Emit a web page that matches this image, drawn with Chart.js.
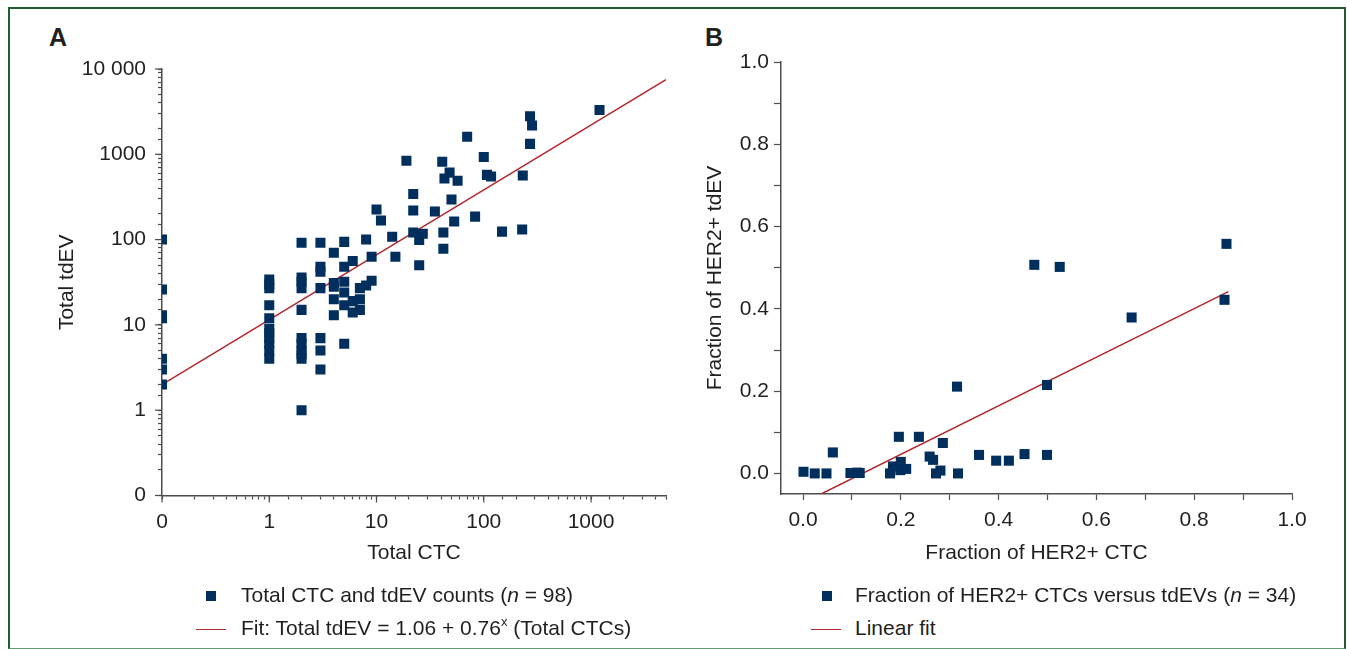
<!DOCTYPE html>
<html>
<head>
<meta charset="utf-8">
<script src="https://cdn.jsdelivr.net/npm/chart.js@4.4.0/dist/chart.umd.min.js"></script>
<style>
  body { margin: 0; width: 1347px; height: 649px; background: #fff; overflow: hidden;
         font-family: "Liberation Sans", Arial, sans-serif; color: #231f20; }
  .frame { position: absolute; left: 7.5px; top: 7px; width: 1338px; height: 642px; box-sizing: border-box;
           border: 2.5px solid #1d5f2f; border-bottom: 1px solid #5f9a70; }
  .panel { position: absolute; top: 25px; font-weight: bold; font-size: 25px; line-height: 1; }
  canvas { position: absolute; top: 0; }
  .leg { position: absolute; font-size: 21px; line-height: 33px; white-space: nowrap; }
  .sq { position: absolute; width: 9.5px; height: 9.5px; background: #002e5d; }
  .ln { position: absolute; height: 1.5px; background: #b3282d; }
  sup { font-size: 13px; line-height: 0; vertical-align: 9px; }
</style>
</head>
<body>
<div class="frame"></div>
<div class="panel" style="left:49px">A</div>
<div class="panel" style="left:705px">B</div>
<canvas id="chartA" width="680" height="580" style="left:0"></canvas>
<canvas id="chartB" width="667" height="580" style="left:680px"></canvas>

<div class="sq" style="left:206px; top:591px"></div>
<div class="leg" style="left:241px; top:578px">Total CTC and tdEV counts (<i>n</i> = 98)</div>
<div class="ln" style="left:196px; top:628.5px; width:30px"></div>
<div class="leg" style="left:241px; top:611px">Fit: Total tdEV = 1.06 + 0.76<sup>x</sup> (Total CTCs)</div>

<div class="sq" style="left:822px; top:591px"></div>
<div class="leg" style="left:855px; top:578px">Fraction of HER2+ CTCs versus tdEVs (<i>n</i> = 34)</div>
<div class="ln" style="left:811px; top:628.5px; width:30px"></div>
<div class="leg" style="left:855px; top:611px">Linear fit</div>

<script>
// panel A: total CTC vs total tdEV (0 drawn one decade below 1)
const ctcA = [
  0, 0, 0, 0, 0, 0, 0,
  1, 1, 1, 1, 1, 1, 1, 1, 1, 1, 1,
  2, 2, 2, 2, 2, 2, 2, 2, 2, 2, 2,
  3, 3, 3, 3, 3, 3, 3,
  4, 4, 4, 4, 4,
  5, 5, 5, 5, 5, 5,
  6, 6, 6,
  7, 7, 7,
  8, 8,
  9, 9,
  10, 11, 14, 15, 19, 22, 22, 22, 25, 25, 27, 35, 41, 42, 42, 43,
  48, 50, 53, 57, 70, 83, 100, 107, 117, 148, 228, 231, 270, 270, 282, 1200
];
const tdevA = [
  100, 26, 13, 12, 4, 3, 2,
  34, 30, 27, 17, 12, 9, 8, 7, 6, 5, 4,
  92, 36, 32, 27, 15, 7, 6, 5, 4.5, 4, 1,
  92, 48, 42, 27, 7, 5, 3,
  70, 31, 28, 20, 13,
  94, 48, 32, 24, 17, 6,
  56, 19, 14,
  27, 20, 15,
  100, 29,
  63, 33,
  225, 167, 108, 63, 840, 343, 219, 121, 99, 50, 117, 213, 820, 121, 78, 519,
  610, 295, 163, 490, 1610, 186, 930, 574, 548, 124, 131, 563, 2800, 1325, 2170, 3300
];
const fitAX = [0, 5000];
const fitAY = [2.0, 7500];

// panel B: fraction of HER2+ CTC vs fraction of HER2+ tdEV
const fracCTC = [
  0.001, 0.024, 0.048, 0.061, 0.097, 0.111, 0.116, 0.178, 0.184, 0.196, 0.2,
  0.199, 0.211, 0.237, 0.259, 0.266, 0.272, 0.281, 0.286, 0.315, 0.317, 0.36,
  0.395, 0.421, 0.453, 0.499, 0.499, 0.473, 0.525, 0.672, 0.862, 0.866
];
const fracEV = [
  0.004, 0, 0, 0.051, 0.001, 0.002, 0.001, 0, 0.017, 0.089, 0.028,
  0.008, 0.011, 0.089, 0.041, 0.033, 0, 0.007, 0.074, 0.211, 0, 0.045,
  0.031, 0.031, 0.047, 0.215, 0.045, 0.507, 0.502, 0.379, 0.422, 0.558
];
const fitBX = [0.037, 0.87];
const fitBY = [-0.05, 0.442];

const navy = '#002e5d';
const red = '#b3282d';
const axisColor = '#4d4d4d';
const textColor = '#231f20';
const fontFamily = '"Liberation Sans", Arial, sans-serif';
const ZERO_AT = 0.1; // where "0" sits on the log axes

const toLog = v => (v === 0 ? ZERO_AT : v);
const isDecade = v => {
  const l = Math.log10(v);
  return Math.abs(l - Math.round(l)) < 1e-9;
};
const logLabel = v => {
  if (!isDecade(v)) return '';
  if (Math.abs(v - ZERO_AT) < 1e-12) return '0';
  return v >= 10000 ? '10 000' : String(Math.round(v));
};

// longer tick marks on the decades of the log axes
const majorTicks = {
  id: 'majorTicks',
  afterDraw(chart, args, opts) {
    if (!opts.len) return;
    const ctx = chart.ctx;
    ctx.save();
    ctx.strokeStyle = axisColor;
    ctx.lineWidth = 1.2;
    Object.values(chart.scales).forEach(s => {
      s.ticks.forEach(t => {
        if (!isDecade(t.value)) return;
        const p = s.getPixelForValue(t.value);
        ctx.beginPath();
        if (s.isHorizontal()) {
          ctx.moveTo(p, s.top);
          ctx.lineTo(p, s.top + opts.len);
        } else {
          ctx.moveTo(s.right, p);
          ctx.lineTo(s.right - opts.len, p);
        }
        ctx.stroke();
      });
    });
    ctx.restore();
  }
};

const font = { family: fontFamily, size: 21 };

function axis(extra) {
  return Object.assign({
    border: { color: axisColor, width: 1.5 },
    grid: { drawOnChartArea: false, drawTicks: true, tickLength: 4, tickColor: axisColor, tickWidth: 1.2 },
    ticks: { autoSkip: false, maxRotation: 0, color: textColor, font: font, padding: 10 },
  }, extra);
}

new Chart(document.getElementById('chartA'), {
  type: 'scatter',
  data: {
    datasets: [
      {
        data: ctcA.map((x, i) => ({ x: toLog(x), y: toLog(tdevA[i]) })),
        backgroundColor: navy, borderWidth: 0, pointStyle: 'rect', pointRadius: 7.1, clip: 0
      },
      {
        type: 'line',
        data: fitAX.map((x, i) => ({ x: toLog(x), y: fitAY[i] })),
        borderColor: red, borderWidth: 1.5, pointRadius: 0, fill: false, clip: 0
      }
    ]
  },
  options: {
    responsive: false,
    animation: false,
    devicePixelRatio: 1,
    layout: { padding: { left: 0, top: 69, right: 14, bottom: 0 } },
    plugins: { legend: { display: false }, tooltip: { enabled: false }, majorTicks: { len: 7 } },
    scales: {
      x: axis({
        type: 'logarithmic', min: 0.1, max: 5000,
        ticks: { autoSkip: false, maxRotation: 0, color: textColor, font: font, padding: 10, callback: logLabel },
        title: { display: true, text: 'Total CTC', color: textColor, font: font, padding: { top: 0, bottom: 14 } },
        afterFit: s => { s.height = 580 - 495.5; }
      }),
      y: axis({
        type: 'logarithmic', min: 0.1, max: 10000,
        ticks: { autoSkip: false, color: textColor, font: font, padding: 12, callback: logLabel },
        title: { display: true, text: 'Total tdEV', color: textColor, font: font, padding: { top: 55, bottom: 0 } },
        afterFit: s => { s.width = 162; }
      })
    }
  },
  plugins: [majorTicks]
});

const fracLabel = v => (Math.round(v * 10) % 2 === 0 ? v.toFixed(1) : '');

new Chart(document.getElementById('chartB'), {
  type: 'scatter',
  data: {
    datasets: [
      {
        data: fracCTC.map((x, i) => ({ x: x, y: fracEV[i] })),
        backgroundColor: navy, borderWidth: 0, pointStyle: 'rect', pointRadius: 7.1, clip: 0
      },
      {
        type: 'line',
        data: fitBX.map((x, i) => ({ x: x, y: fitBY[i] })),
        borderColor: red, borderWidth: 1.5, pointRadius: 0, fill: false, clip: 0
      }
    ]
  },
  options: {
    responsive: false,
    animation: false,
    devicePixelRatio: 1,
    layout: { padding: { left: 0, top: 62, right: 55, bottom: 0 } },
    plugins: { legend: { display: false }, tooltip: { enabled: false } },
    scales: {
      x: axis({
        type: 'linear', min: -0.045, max: 1.0,
        grid: { drawOnChartArea: false, drawTicks: true, tickLength: 6, tickColor: axisColor, tickWidth: 1.2 },
        ticks: { autoSkip: false, maxRotation: 0, color: textColor, font: font, padding: 8,
                 stepSize: 0.1, includeBounds: false, callback: fracLabel },
        title: { display: true, text: 'Fraction of HER2+ CTC', color: textColor, font: font, padding: { top: 0, bottom: 14 } },
        afterFit: s => { s.height = 580 - 494; }
      }),
      y: axis({
        type: 'linear', min: -0.05, max: 1.0,
        grid: { drawOnChartArea: false, drawTicks: true, tickLength: 7, tickColor: axisColor, tickWidth: 1.2 },
        ticks: { autoSkip: false, color: textColor, font: font, padding: 5,
                 stepSize: 0.1, includeBounds: false, callback: fracLabel },
        title: { display: true, text: 'Fraction of HER2+ tdEV', color: textColor, font: font, padding: { top: 23, bottom: 0 } },
        afterFit: s => { s.width = 101; }
      })
    }
  }
});
</script>
</body>
</html>
